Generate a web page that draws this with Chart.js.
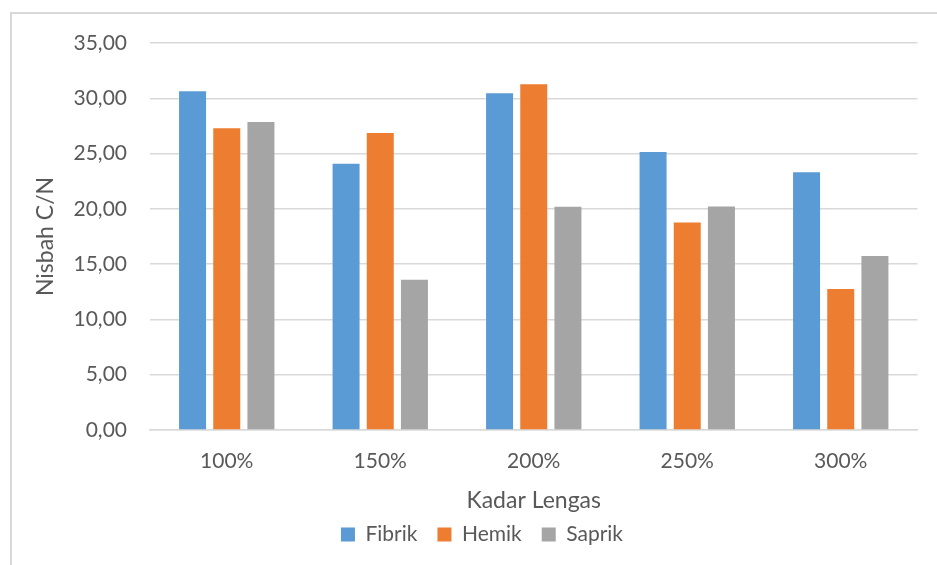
<!DOCTYPE html>
<html>
<head>
<meta charset="utf-8">
<title>Nisbah C/N</title>
<script src="https://cdn.jsdelivr.net/npm/chart.js@4/dist/chart.umd.min.js"></script>
<style>
  html, body { margin: 0; padding: 0; background: #ffffff; }
  #wrap { width: 937px; height: 565px; position: relative; }
</style>
</head>
<body>
<div id="wrap"><canvas id="chart" width="937" height="565"></canvas></div>
<script>
// Moisture levels (x categories)
const categories = ['100%', '150%', '200%', '250%', '300%'];

// C/N ratio per peat type
const fibrik = [30.64, 24.09, 30.46, 25.14, 23.31];
const hemik  = [27.30, 26.85, 31.27, 18.76, 12.75];
const saprik = [27.85, 13.59, 20.18, 20.21, 15.73];

const seriesNames = ['Fibrik', 'Hemik', 'Saprik'];
const yTicks = [0, 5, 10, 15, 20, 25, 30, 35];

const TEXT = '#595959';
const GRID = '#d9d9d9';
const FONT = 'Lato, "Open Sans", "Liberation Sans", sans-serif';

// Light frame around the whole chart, drawn behind everything
const framePlugin = {
  id: 'frame',
  beforeDraw(chart) {
    const ctx = chart.ctx;
    ctx.save();
    ctx.fillStyle = '#ffffff';
    ctx.fillRect(0, 0, chart.width, chart.height);
    ctx.strokeStyle = GRID;
    ctx.lineWidth = 2;
    ctx.strokeRect(11, 13, chart.width + 20, chart.height + 20);
    ctx.restore();
  }
};

// Place the legend row under the axis title
const legendPlace = {
  id: 'legendPlace',
  afterLayout(chart) {
    const lg = chart.legend;
    if (!lg) return;
    const dx = 482 - (lg.left + lg.right) / 2;
    lg.left += dx; lg.right += dx;
    lg.top -= 10; lg.bottom -= 10;
  }
};

new Chart(document.getElementById('chart'), {
  type: 'bar',
  data: {
    labels: categories,
    datasets: [
      { label: seriesNames[0], data: fibrik, backgroundColor: '#5b9bd5' },
      { label: seriesNames[1], data: hemik,  backgroundColor: '#ed7d31' },
      { label: seriesNames[2], data: saprik, backgroundColor: '#a5a5a5' }
    ]
  },
  options: {
    responsive: false,
    animation: false,
    events: [],
    layout: { padding: { left: 0, top: 43, right: 19.5, bottom: 0 } },
    datasets: { bar: { categoryPercentage: 0.668, barPercentage: 0.79 } },
    scales: {
      x: {
        grid: { display: false, drawTicks: false },
        border: { display: true, color: GRID, width: 1.5 },
        ticks: { color: TEXT, font: { family: FONT, size: 21 }, padding: 19 },
        title: {
          display: true, text: 'Kadar Lengas', color: TEXT,
          font: { family: FONT, size: 23 }, padding: { top: 0, bottom: 0 }
        },
        afterFit(scale) { scale.height = 84; }
      },
      y: {
        min: 0, max: 35,
        afterBuildTicks(scale) { scale.ticks = yTicks.map(v => ({ value: v })); },
        grid: { color: GRID, lineWidth: 1.5, drawTicks: false },
        border: { display: false },
        ticks: {
          color: TEXT, font: { family: FONT, size: 21 }, padding: 23,
          callback: v => Number(v).toFixed(2).replace('.', ',')
        },
        title: {
          display: true, text: 'Nisbah C/N', color: TEXT,
          font: { family: FONT, size: 23 }, padding: { top: 32, bottom: 0 }
        },
        afterFit(scale) { scale.width = 150; }
      }
    },
    plugins: {
      legend: {
        position: 'bottom',
        labels: {
          color: TEXT, font: { family: FONT, size: 21 },
          boxWidth: 14, boxHeight: 14, padding: 20
        }
      },
      tooltip: { enabled: false },
      title: { display: false }
    }
  },
  plugins: [framePlugin, legendPlace]
});
</script>
</body>
</html>
